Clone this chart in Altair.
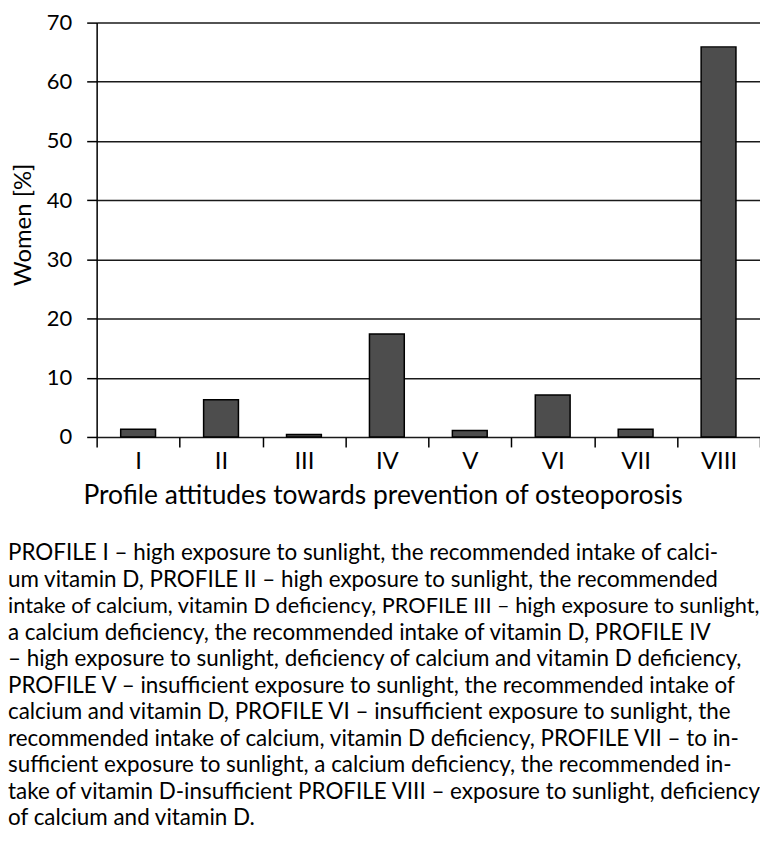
import altair as alt
import pandas as pd

# ---- data ----
profiles = ["I", "II", "III", "IV", "V", "VI", "VII", "VIII"]
women_pct = [1.3, 6.3, 0.4, 17.4, 1.1, 7.1, 1.3, 65.9]

caption_lines = [
    "PROFILE I – high exposure to sunlight, the recommended intake of calci-",
    "um vitamin D, PROFILE II – high exposure to sunlight, the recommended",
    "intake of calcium, vitamin D deficiency, PROFILE III – high exposure to sunlight,",
    "a calcium deficiency, the recommended intake of vitamin D, PROFILE IV",
    "– high exposure to sunlight, deficiency of calcium and vitamin D deficiency,",
    "PROFILE V – insufficient exposure to sunlight, the recommended intake of",
    "calcium and vitamin D, PROFILE VI – insufficient exposure to sunlight, the",
    "recommended intake of calcium, vitamin D deficiency, PROFILE VII – to in-",
    "sufficient exposure to sunlight, a calcium deficiency, the recommended in-",
    "take of vitamin D-insufficient PROFILE VIII – exposure to sunlight, deficiency",
    "of calcium and vitamin D.",
]

y_ticks = [0, 10, 20, 30, 40, 50, 60, 70]

bars_df = pd.DataFrame({"profile": profiles, "pct": women_pct})
cap_df = pd.DataFrame({"idx": list(range(len(caption_lines))), "line": caption_lines})

FONT = "Lato"
TIGHT_LINE = 2  # the line that is set tightly in the original

bars = alt.Chart(bars_df).mark_bar(
    color="#4d4d4d", stroke="black", strokeWidth=1.5,
    width=alt.RelativeBandSize(0.42)
).encode(
    x=alt.X(
        "profile:N", sort=profiles,
        scale=alt.Scale(paddingInner=0, paddingOuter=0),
        axis=alt.Axis(
            title="Profile attitudes towards prevention of osteoporosis",
            titleX=287, titleY=67, titleAlign="center", titleBaseline="alphabetic",
            titleFont=FONT, titleFontSize=26.5, titleFontWeight="normal", titleColor="black",
            labelFont=FONT, labelFontSize=24, labelColor="black", labelAngle=0,
            labelPadding=3,
            domain=False, grid=False, tickBand="extent",
            tickSize=10, tickColor="black", tickWidth=1.5,
        ),
    ),
    y=alt.Y(
        "pct:Q",
        scale=alt.Scale(domain=[0, 70], nice=False),
        axis=alt.Axis(
            title="Women [%]", values=y_ticks,
            titleX=-66, titleY=202.5, titleAngle=-90, titleAlign="center",
            titleBaseline="alphabetic",
            titleFont=FONT, titleFontSize=24, titleFontWeight="normal", titleColor="black",
            labelFont=FONT, labelFontSize=22, labelColor="black", labelPadding=15,
            domain=True, domainColor="black", domainWidth=1.5,
            ticks=True, tickSize=10, tickColor="black", tickWidth=1.5,
            grid=True, gridColor="#1a1a1a", gridWidth=1.5, gridOpacity=1,
        ),
    ),
)

cap_y = alt.Y("idx:Q", scale=alt.Scale(domain=[0, 10], range=[540, 806], nice=False, zero=False), axis=None)

caption = alt.Chart(cap_df).transform_filter(
    alt.datum.idx != TIGHT_LINE
).mark_text(
    align="left", baseline="alphabetic", font=FONT, fontSize=22.5, color="black"
).encode(x=alt.value(-89), y=cap_y, text="line:N")

caption_tight = alt.Chart(cap_df).transform_filter(
    alt.datum.idx == TIGHT_LINE
).mark_text(
    align="left", baseline="alphabetic", font=FONT, fontSize=21.8, color="black"
).encode(x=alt.value(-89), y=cap_y, text="line:N")

chart = alt.layer(bars, caption, caption_tight).resolve_scale(y="independent").properties(
    width=666, height=416,
    autosize=alt.AutoSizeParams(type="none"),
    padding={"left": 89, "top": 13, "right": 0, "bottom": 406},
).configure_view(stroke=None)

chart.save("out.html", embed_options={"renderer": "svg", "actions": False})
